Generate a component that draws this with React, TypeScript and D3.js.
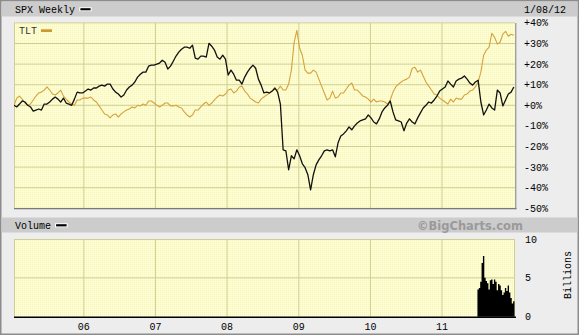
import React, { useLayoutEffect } from "react";
import * as d3 from "d3";

const W = 579;
const H = 335;

// ---- data ----
const startDate = "2005-01-10";
const endDate = "2012-01-08";
const stepDays = 14;

const spxPct = [
  0, -0.8, 0.6, 2.1, 1.6, 0, -0.8, -2.8, -2.3, -1.8,
  -2.3, 0.6, 0.6, 1.6, 3.0, 4.0, 3.0, 1.6, 3.5, 1.1,
  0.6, 0, 3.0, 6.4, 6.0, 6.0, 6.9, 7.9, 7.4, 8.4,
  8.4, 9.3, 9.8, 9.3, 10.3, 10.3, 7.9, 6.4, 5.5, 4.0,
  5.0, 7.4, 8.9, 9.8, 11.3, 13.7, 15.1, 16.1, 16.1, 19.0,
  19.5, 19.5, 20.0, 20.5, 21.9, 20.9, 17.6, 19.0, 21.4, 23.9,
  25.8, 27.2, 28.2, 28.2, 27.7, 29.2, 22.9, 22.4, 23.9, 23.9,
  23.4, 30.1, 28.7, 26.8, 23.4, 22.4, 24.3, 22.4, 14.7, 17.1,
  15.1, 12.2, 12.2, 10.3, 13.7, 16.1, 18.0, 19.5, 18.0, 12.7,
  9.8, 6.0, 6.4, 6.0, 6.9, 8.4, 6.4, 0.6, -21.6, -22.1,
  -31.3, -24.5, -26.0, -21.6, -24.5, -28.4, -30.3, -33.7, -41.0, -33.7,
  -28.9, -26.5, -24.5, -22.1, -21.6, -22.1, -21.6, -25.0, -18.2, -14.9,
  -13.9, -12.4, -10.5, -11.9, -10.0, -8.6, -7.6, -7.1, -6.6, -4.7,
  -6.1, -8.1, -9.0, -6.6, -3.2, -1.3, 0, 2.1, -3.2, -7.1,
  -7.6, -8.1, -12.4, -8.6, -6.6, -8.1, -9.0, -6.1, -3.7, -1.3,
  0, 1.6, 1.1, 2.6, 4.5, 6.9, 7.9, 8.9, 11.8, 10.3,
  8.9, 11.8, 12.7, 13.2, 14.2, 12.7, 10.8, 9.8, 11.3, 12.2,
  1.6, -4.7, -2.3, 0.6, -1.3, -2.3, 7.4, 6.0, -0.3, 2.6,
  5.5, 6.4, 8.9,
];

const tltPct = [
  0, 3.5, 4.5, 3.0, 1.1, 0, 0.6, 2.6, 4.5, 6.0,
  6.4, 7.4, 8.9, 7.4, 5.5, 5.0, 6.0, 7.4, 4.5, 3.0,
  1.6, 0.6, 0, 2.6, 2.6, 3.5, 3.5, 3.5, 4.0, 2.6,
  1.6, -0.3, -2.3, -4.2, -4.7, -6.1, -4.7, -4.2, -5.7, -4.2,
  -3.2, -2.3, -1.8, -0.8, -1.3, 0, -0.3, 0.6, 0, 2.1,
  2.1, 1.1, 0, -0.8, 0, 1.1, 1.1, -0.3, -0.3, 0,
  -0.8, -1.3, -3.2, -4.7, -5.7, -4.7, -2.3, -2.3, -0.8, 0.6,
  1.6, 0, 1.1, 2.6, 4.0, 5.0, 4.5, 5.5, 7.4, 7.9,
  6.0, 6.9, 8.9, 9.3, 6.9, 5.5, 3.5, 2.6, 1.6, 1.1,
  3.0, 4.0, 5.0, 6.0, 6.9, 7.9, 7.4, 9.3, 7.4, 7.4,
  10.3, 17.1, 30.6, 36.4, 27.7, 24.3, 17.1, 15.6, 15.6, 17.1,
  16.1, 12.7, 9.3, 6.0, 2.6, 3.5, 6.9, 3.5, 4.0, 6.0,
  6.0, 7.9, 9.8, 10.8, 7.4, 7.4, 6.0, 4.5, 4.0, 3.0,
  1.6, 3.0, 1.6, 2.1, 2.1, 1.6, 0.6, 2.6, 6.4, 8.9,
  10.3, 11.3, 12.2, 12.7, 13.7, 18.0, 18.5, 16.1, 17.1, 14.2,
  11.3, 9.3, 7.4, 5.5, 5.0, 3.5, 2.6, 1.6, 0.6, 3.0,
  1.6, 3.5, 3.0, 3.0, 5.0, 5.5, 6.9, 7.4, 8.9, 11.3,
  16.1, 24.3, 26.8, 28.2, 35.0, 33.0, 29.7, 30.6, 34.5, 35.9,
  33.5, 34.5, 34.0,
];

const volStart = "2011-07-04";
const volBillions = [
  3.5, 3.7, 4.5, 6.9, 7.8, 5.0, 4.6, 4.3, 3.5, 4.7, 4.8, 4.2, 4.8, 4.5,
  3.4, 4.2, 4.0, 3.4, 2.8, 3.1, 3.7, 3.3, 4.0, 3.1, 2.4, 1.7, 2.0,
];

const pctTicks = [40, 30, 20, 10, 0, -10, -20, -30, -40, -50];
const volTicks = [10, 5, 0];
const yearTicks = ["2006-01-01", "2007-01-01", "2008-01-01", "2009-01-01", "2010-01-01", "2011-01-01"];
const yearLabels = ["06", "07", "08", "09", "10", "11"];

const mainTitle = "SPX Weekly";
const compTitle = "TLT";
const dateLabel = "1/08/12";
const volTitle = "Volume";
const volUnit = "Billions";
const credit = "\u00A9BigCharts.com";

// ---- styles ----
const MONO = "'Liberation Mono', 'DejaVu Sans Mono', monospace";
const GRID = "#cfcf93";
const GOLD = "#d6a13e";
const PLOT_BG = "#fdfdcb";

export default function App() {
  useLayoutEffect(() => {
    document.body.style.margin = "0";
  }, []);

  const parse = d3.utcParse("%Y-%m-%d");
  const t0 = parse(startDate) as Date;
  const t1 = parse(endDate) as Date;
  const v0 = parse(volStart) as Date;

  const L = 14, R = 515;
  const mainTop = 22.9, mainBot = 208.3;
  const volTop = 239, volBot = 316.7;

  const x = d3.scaleUtc().domain([t0, t1]).range([L, R]);
  const y = d3.scaleLinear().domain([-50, 40]).range([mainBot, mainTop]);
  const yv = d3.scaleLinear().domain([0, 10]).range([volBot, volTop]);

  const dateAt = (i: number) => d3.utcDay.offset(t0, i * stepDays);
  const line = d3
    .line<number>()
    .x((_, i) => x(dateAt(i)))
    .y((d) => y(d));

  const years = yearTicks.map((s) => parse(s) as Date);
  const weekW = x(d3.utcDay.offset(v0, 7)) - x(v0);

  // volume bars as one stepped area (no seams between adjacent weekly bars)
  const volPts = volBillions.map((v, i) => ({ d: d3.utcDay.offset(v0, i * 7), v }));
  volPts.push({ d: d3.utcDay.offset(v0, volBillions.length * 7), v: volBillions[volBillions.length - 1] });
  const volArea = d3
    .area<{ d: Date; v: number }>()
    .curve(d3.curveStepAfter)
    .x((p) => x(p.d) - weekW / 2)
    .y0(volBot)
    .y1((p) => yv(p.v));

  const fmtPct = (d: number) => (d >= 0 ? "+" : "") + d + "%";

  return (
    <svg
      width={W}
      height={H}
      viewBox={`0 0 ${W} ${H}`}
      style={{ position: "absolute", left: 0, top: 0, display: "block" }}
      fontFamily={MONO}
    >
      <defs>
        <pattern id="dots" width="2" height="2" patternUnits="userSpaceOnUse">
          <rect width="2" height="2" fill={PLOT_BG} />
          <rect width="1" height="1" fill="#f6f6c4" />
          <rect x="1" y="1" width="1" height="1" fill="#ffffd9" />
        </pattern>
        <clipPath id="mainClip">
          <rect x={L} y={mainTop - 1} width={R - L} height={mainBot - mainTop + 1} />
        </clipPath>
      </defs>

      {/* outer frame */}
      <rect x={0.75} y={0.75} width={W - 1.5} height={H - 1.5} fill="#ededed" stroke="#8c8c8c" strokeWidth={1.5} />

      {/* top header */}
      <rect x={1.5} y={1.5} width={W - 3} height={15} fill="#cccccc" />
      <text x={15} y={13} fontSize={10} fill="#000">{mainTitle}</text>
      <rect x={79.3} y={7.3} width={12.4} height={3.9} fill="#fff" />
      <rect x={80.4} y={8.2} width={10.2} height={2.1} fill="#000" />
      <text x={566} y={13} fontSize={10} textAnchor="end" fill="#000">{dateLabel}</text>

      {/* main plot */}
      <rect x={L} y={mainTop} width={R - L} height={mainBot - mainTop} fill="url(#dots)" />
      {pctTicks.map((t) => (
        <line key={"h" + t} x1={L} x2={R} y1={y(t)} y2={y(t)} stroke={GRID} strokeWidth={1} />
      ))}
      <line x1={L + 0.5} x2={L + 0.5} y1={mainTop} y2={mainBot} stroke={GRID} />
      {years.map((d, i) => (
        <line key={"v" + i} x1={x(d)} x2={x(d)} y1={mainTop} y2={mainBot} stroke={GRID} strokeWidth={1} />
      ))}
      <g clipPath="url(#mainClip)">
        <path d={line(tltPct) || ""} fill="none" stroke={GOLD} strokeWidth={1.1} strokeLinejoin="round" />
        <path d={line(spxPct) || ""} fill="none" stroke="#111" strokeWidth={1.3} strokeLinejoin="round" />
      </g>
      <line x1={R + 0.7} x2={R + 0.7} y1={mainTop} y2={mainBot + 1} stroke="#a0a0a0" strokeWidth={1.4} />
      <line x1={L} x2={R + 1.4} y1={mainBot + 0.3} y2={mainBot + 0.3} stroke="#7a7a7a" strokeWidth={1.4} />

      {/* TLT legend */}
      <text x={19} y={34} fontSize={10} fill="#333">{compTitle}</text>
      <rect x={41} y={29.3} width={11} height={2.7} fill="#cc9933" />

      {/* y labels */}
      {pctTicks.map((t) => (
        <text key={"yl" + t} x={524} y={y(t)} dy="0.35em" fontSize={10} fill="#000">
          {fmtPct(t)}
        </text>
      ))}

      {/* volume header */}
      <rect x={1.5} y={217.5} width={W - 3} height={15} fill="#cccccc" />
      <text x={15} y={229} fontSize={10} fill="#000">{volTitle}</text>
      <rect x={55} y={223.3} width={12.7} height={4} fill="#fff" />
      <rect x={56.1} y={224.2} width={10.5} height={2.2} fill="#000" />
      <text
        x={470}
        y={229.5}
        fontSize={11.5}
        fontWeight="bold"
        textAnchor="middle"
        fill="#9a9a9a"
        fontFamily="'DejaVu Sans', Verdana, sans-serif"
      >
        {credit}
      </text>

      {/* volume plot */}
      <rect x={L} y={volTop} width={R - L} height={volBot - volTop} fill="url(#dots)" />
      <line x1={L} x2={R} y1={volTop + 0.5} y2={volTop + 0.5} stroke={GRID} />
      <line x1={L} x2={R} y1={yv(5)} y2={yv(5)} stroke={GRID} />
      <line x1={L + 0.5} x2={L + 0.5} y1={volTop} y2={volBot} stroke={GRID} />
      <line x1={R - 0.5} x2={R - 0.5} y1={volTop} y2={volBot} stroke={GRID} />
      {years.map((d, i) => (
        <line key={"vv" + i} x1={x(d)} x2={x(d)} y1={volTop} y2={volBot} stroke={GRID} strokeWidth={1} />
      ))}
      <path d={volArea(volPts) || ""} fill="#000" />
      <line x1={L} x2={R + 1} y1={volBot + 0.6} y2={volBot + 0.6} stroke="#000" strokeWidth={1.6} />

      {volTicks.map((t) => (
        <text key={"vl" + t} x={525} y={yv(t)} dy="0.35em" fontSize={10} fill="#000">
          {t}
        </text>
      ))}
      <text
        transform="translate(567,275) rotate(-90)"
        textAnchor="middle"
        dy="0.35em"
        fontSize={10}
        fill="#000"
      >
        {volUnit}
      </text>

      {/* year labels */}
      {years.map((d, i) => (
        <text key={"yr" + i} x={x(d)} y={330} fontSize={10} textAnchor="middle" fill="#000">
          {yearLabels[i]}
        </text>
      ))}
    </svg>
  );
}
